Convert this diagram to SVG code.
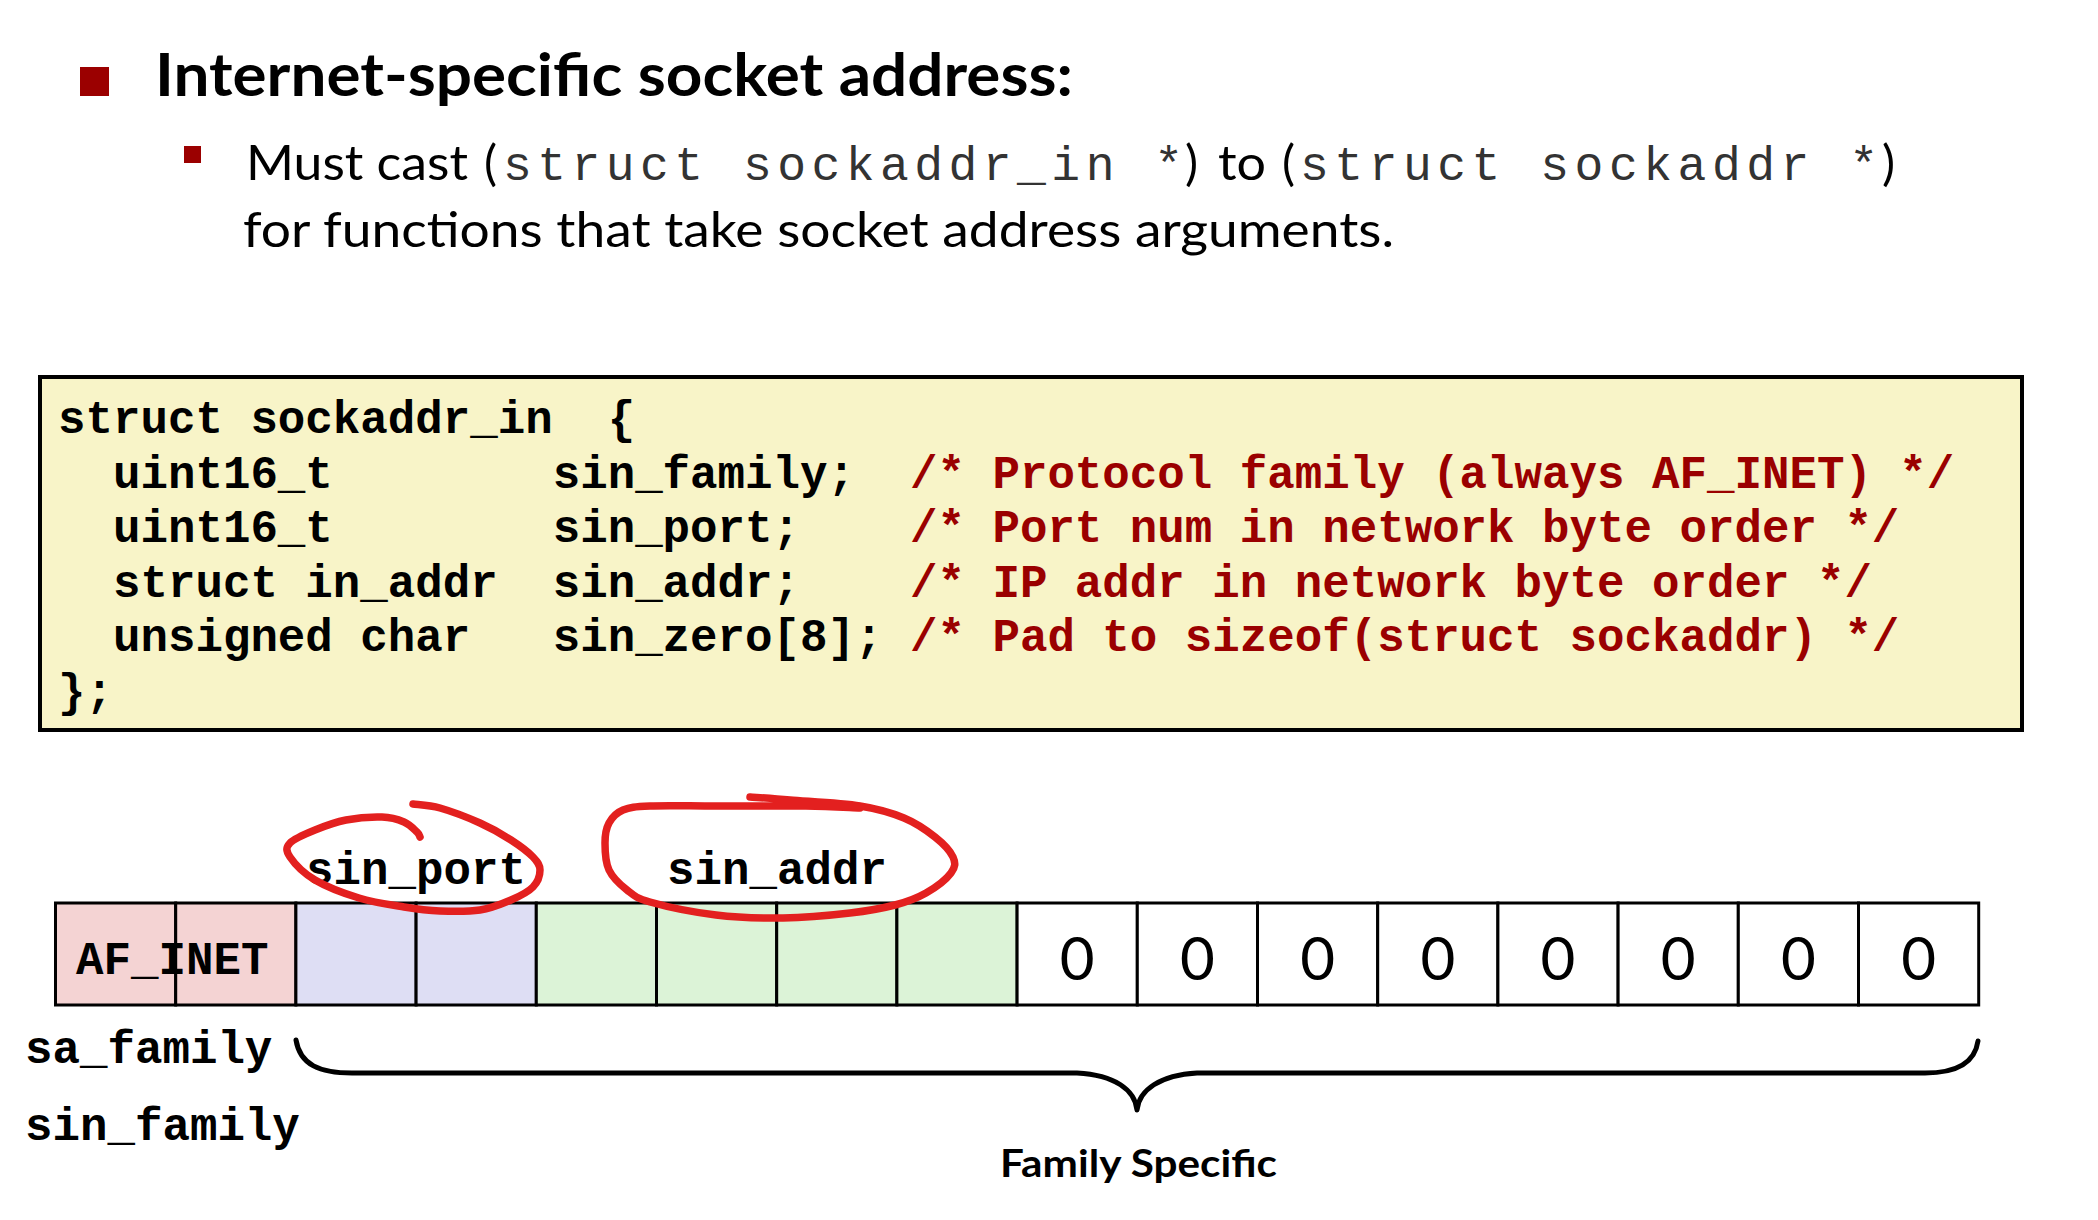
<svg xmlns="http://www.w3.org/2000/svg" width="2098" height="1220" viewBox="0 0 2098 1220">
<style>
.sans{font-family:Lato,"Open Sans","Liberation Sans",sans-serif;fill:#000}
.code{font-family:"Liberation Mono","Courier New",monospace;font-weight:bold;font-size:45.8px;fill:#000}
.cmt{fill:#9a0000}
.mono{font-family:"Liberation Mono","Courier New",monospace;font-size:48px;fill:#333}
.cell{stroke:#000;stroke-width:3}
.zero{font-family:Lato,"Open Sans","Liberation Sans",sans-serif;font-size:60px;fill:#000;text-anchor:middle}
.loop{fill:none;stroke:#e3201f;stroke-width:7.5;stroke-linecap:round;stroke-linejoin:round}
</style>
<rect width="2098" height="1220" fill="#fff"/>
<g id="title">
<rect x="80" y="67" width="29" height="29" fill="#9b0000"/>
<text class="sans" x="155" y="96" font-size="60" font-weight="bold" textLength="918" lengthAdjust="spacingAndGlyphs">Internet-specific socket address:</text>
</g>
<g id="subbullet">
<rect x="184" y="146" width="17" height="17" fill="#9b0000"/>
<text class="sans" x="246" y="180" font-size="49" textLength="222" lengthAdjust="spacingAndGlyphs">Must cast</text>
<text class="sans" x="484" y="180" font-size="49">(</text>
<text class="mono" x="503" y="180" textLength="680" lengthAdjust="spacing" xml:space="preserve">struct sockaddr_in *</text>
<text class="sans" x="1185" y="180" font-size="49">)</text>
<text class="sans" x="1218" y="180" font-size="49" textLength="48" lengthAdjust="spacingAndGlyphs">to</text>
<text class="sans" x="1282" y="180" font-size="49">(</text>
<text class="mono" x="1300" y="180" textLength="578" lengthAdjust="spacing" xml:space="preserve">struct sockaddr *</text>
<text class="sans" x="1882" y="180" font-size="49">)</text>
<text class="sans" x="243" y="247" font-size="49" textLength="1151" lengthAdjust="spacingAndGlyphs">for functions that take socket address arguments.</text>
</g>
<g id="codebox">
<rect x="40" y="377" width="1982" height="353" fill="#f8f4c8" stroke="#000" stroke-width="4"/>
<text class="code" x="58" y="433" xml:space="preserve">struct sockaddr_in  {</text>
<text class="code" x="58" y="488" xml:space="preserve">  uint16_t        sin_family;  <tspan class="cmt">/* Protocol family (always AF_INET) */</tspan></text>
<text class="code" x="58" y="542" xml:space="preserve">  uint16_t        sin_port;    <tspan class="cmt">/* Port num in network byte order */</tspan></text>
<text class="code" x="58" y="597" xml:space="preserve">  struct in_addr  sin_addr;    <tspan class="cmt">/* IP addr in network byte order */</tspan></text>
<text class="code" x="58" y="651" xml:space="preserve">  unsigned char   sin_zero[8]; <tspan class="cmt">/* Pad to sizeof(struct sockaddr) */</tspan></text>
<text class="code" x="58" y="706" xml:space="preserve">};</text>
</g>
<g id="memory">
<rect class="cell" x="55.5" y="903" width="120.2" height="102" fill="#f4d3d3"/>
<rect class="cell" x="175.7" y="903" width="120.2" height="102" fill="#f4d3d3"/>
<rect class="cell" x="295.9" y="903" width="120.2" height="102" fill="#dedef4"/>
<rect class="cell" x="416.1" y="903" width="120.2" height="102" fill="#dedef4"/>
<rect class="cell" x="536.3" y="903" width="120.2" height="102" fill="#dcf3d7"/>
<rect class="cell" x="656.5" y="903" width="120.2" height="102" fill="#dcf3d7"/>
<rect class="cell" x="776.7" y="903" width="120.2" height="102" fill="#dcf3d7"/>
<rect class="cell" x="896.9" y="903" width="120.2" height="102" fill="#dcf3d7"/>
<rect class="cell" x="1017.1" y="903" width="120.2" height="102" fill="#fff"/>
<rect class="cell" x="1137.3" y="903" width="120.2" height="102" fill="#fff"/>
<rect class="cell" x="1257.5" y="903" width="120.2" height="102" fill="#fff"/>
<rect class="cell" x="1377.7" y="903" width="120.2" height="102" fill="#fff"/>
<rect class="cell" x="1497.9" y="903" width="120.2" height="102" fill="#fff"/>
<rect class="cell" x="1618.1" y="903" width="120.2" height="102" fill="#fff"/>
<rect class="cell" x="1738.3" y="903" width="120.2" height="102" fill="#fff"/>
<rect class="cell" x="1858.5" y="903" width="120.2" height="102" fill="#fff"/>
<text class="code" x="76" y="974">AF_INET</text>
<text class="zero" x="1077.2" y="980">0</text>
<text class="zero" x="1197.4" y="980">0</text>
<text class="zero" x="1317.6" y="980">0</text>
<text class="zero" x="1437.8" y="980">0</text>
<text class="zero" x="1558" y="980">0</text>
<text class="zero" x="1678.2" y="980">0</text>
<text class="zero" x="1798.4" y="980">0</text>
<text class="zero" x="1918.6" y="980">0</text>
</g>
<g id="labels">
<text class="code" x="306" y="884">sin_port</text>
<text class="code" x="667" y="884">sin_addr</text>
<text class="code" x="25" y="1063">sa_family</text>
<text class="code" x="25" y="1140">sin_family</text>
<text class="sans" x="1000" y="1177" font-size="38" font-weight="bold" textLength="277" lengthAdjust="spacingAndGlyphs">Family Specific</text>
</g>
<g id="connectors">
<path d="M296,1040 C300,1065 320,1073 352,1073 L1077,1073 C1115,1075 1135,1090 1137,1110 C1139,1090 1160,1075 1197,1073 L1925,1073 C1958,1073 1975,1062 1978,1041" fill="none" stroke="#000" stroke-width="5" stroke-linecap="round" stroke-linejoin="round"/>
</g>
<g id="annotations">
<path class="loop" d="M413,804 C417.5,804.7 428.8,804.8 440,808 C451.2,811.2 468.2,817.7 480,823 C491.8,828.3 502.2,834.3 511,840 C519.8,845.7 528.2,852 533,857 C537.8,862 540,865 540,870 C540,875 537.8,882 533,887 C528.2,892 519.8,896.2 511,900 C502.2,903.8 491.8,908.2 480,910 C468.2,911.8 452.7,911.5 440,911 C427.3,910.5 417.5,909.2 404,907 C390.5,904.8 373.8,902.5 359,898 C344.2,893.5 326.5,886.8 315,880 C303.5,873.2 294.2,863.2 290,857 C285.8,850.8 285.8,847.5 290,843 C294.2,838.5 305.7,833.8 315,830 C324.3,826.2 334.8,822.2 346,820 C357.2,817.8 372.3,816.7 382,817 C391.7,817.3 398.2,819.5 404,822 C409.8,824.5 414.3,829.5 417,832 C419.7,834.5 419.5,836.2 420,837"/>
<path class="loop" d="M750,797 C756.7,797.5 771.7,798.5 790,800 C808.3,801.5 841,803 860,806 C879,809 891.5,812.8 904,818 C916.5,823.2 926.8,830.5 935,837 C943.2,843.5 950.3,851 953,857 C955.7,863 955.5,867 951,873 C946.5,879 935.3,887.7 926,893 C916.7,898.3 907.7,901.7 895,905 C882.3,908.3 868.7,910.8 850,913 C831.3,915.2 805.3,917.7 783,918 C760.7,918.3 738.2,917.7 716,915 C693.8,912.3 664.8,906.2 650,902 C635.2,897.8 633.8,895.3 627,890 C620.2,884.7 612.7,877.8 609,870 C605.3,862.2 605,850.8 605,843 C605,835.2 606,828.5 609,823 C612,817.5 616.2,812.8 623,810 C629.8,807.2 634.5,806.7 650,806 C665.5,805.3 690,806 716,806 C742,806 782,805.7 806,806 C830,806.3 851,807.7 860,808"/>
</g>
</svg>
